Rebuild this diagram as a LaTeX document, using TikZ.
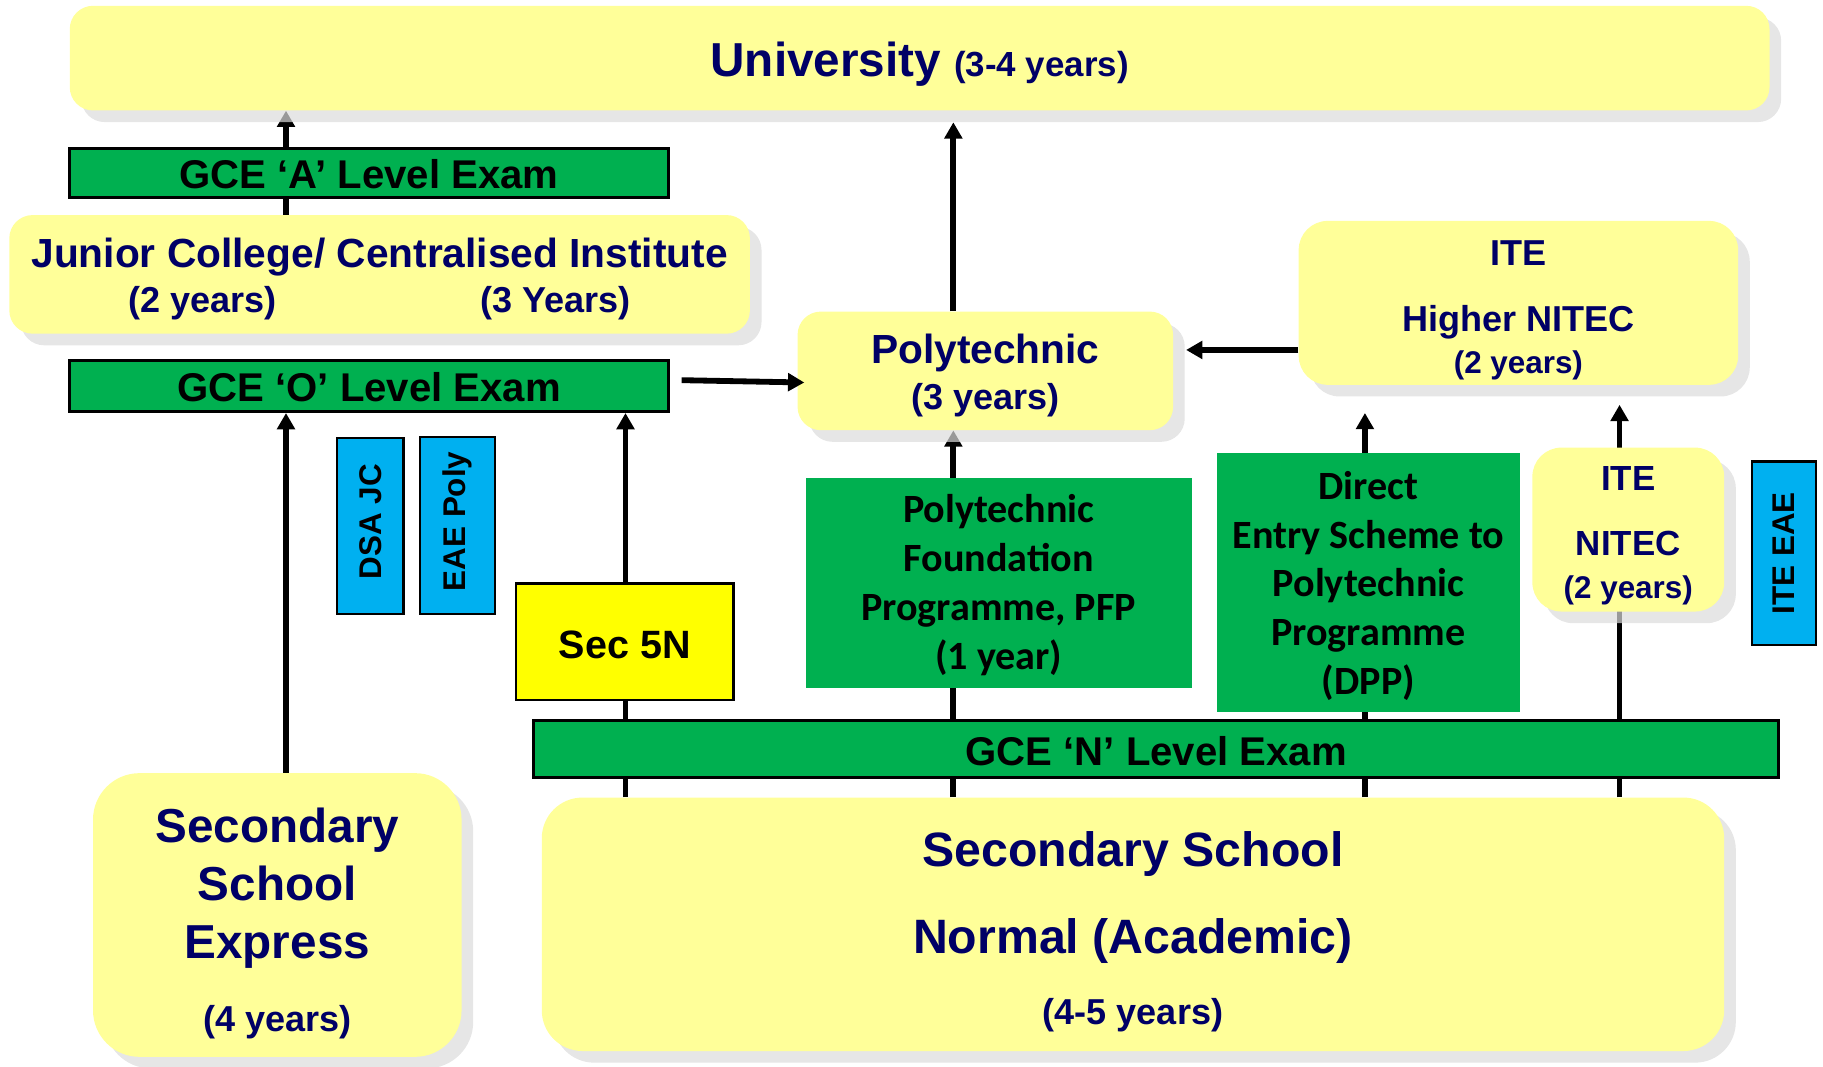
\documentclass[tikz,border=0pt]{standalone}
\usepackage{fontspec}
\setmainfont{Liberation Sans}
\newfontfamily\calib{Carlito}
\usetikzlibrary{arrows.meta,shadows,backgrounds,calc}
\definecolor{navy}{HTML}{000066}
\definecolor{ylw}{HTML}{FFFF99}
\definecolor{grn}{HTML}{00B050}
\definecolor{blu}{HTML}{00B0F0}
\definecolor{secy}{HTML}{FFFF00}
\newcommand\fsz[2]{\fontsize{#1}{#2}\selectfont}
\newcommand\topstrut[1]{\rule{0pt}{#1}}
\begin{document}
\begin{tikzpicture}[x=1pt,y=-1pt,
  shd/.style={drop shadow={shadow xshift=10pt,shadow yshift=-10pt,fill=black!14,opacity=0.7}},
  ybox/.style={shd,fill=ylw,rounded corners=#1,text=navy,align=center,inner sep=0pt},
  ybox/.default=20pt,
  gbar/.style={fill=grn,draw=black,line width=2.5pt,font=\bfseries\fsz{34.5}{40},inner sep=0pt},
  gblock/.style={fill=grn,inner sep=0pt,align=center,font=\calib\bfseries\fsz{34.5}{42}},
  bbox/.style={fill=blu,draw=black,line width=2pt,rotate=90,font=\bfseries\fsz{27}{32},inner sep=0pt},
  arr/.style={line width=5pt,-{Triangle[length=14pt,width=15pt]}}
]
\useasboundingbox (0,0) rectangle (1568,917);

% boxes
\node[ybox=20pt,minimum width=1462pt,minimum height=90pt,font=\bfseries\fsz{41}{49}] (univ) at (791,50)
  {\topstrut{40pt}University \fsz{30}{49}(3-4 years)};
\node[gbar,minimum width=515pt,minimum height=42pt] (alev) at (317.5,149)
  {\topstrut{27pt}GCE ‘A’ Level Exam};
\node[ybox=20pt,minimum width=637pt,minimum height=102pt,font=\bfseries\fsz{35}{39}] (jc) at (326.5,236)
  {\topstrut{33.5pt}Junior College/ Centralised Institute\\\fsz{31}{39}(2 years)\hspace{175pt}(3 Years)};
\node[gbar,minimum width=515pt,minimum height=44pt] (olev) at (317.5,332)
  {\topstrut{27pt}GCE ‘O’ Level Exam};
\node[ybox=20pt,minimum width=323pt,minimum height=102pt,font=\bfseries\fsz{35}{39}] (poly) at (847.5,319)
  {\topstrut{33.5pt}Polytechnic\\\fsz{31}{39}(3 years)};
\node[ybox=25pt,minimum width=378pt,minimum height=141pt,font=\bfseries\fsz{31}{36}] (ite) at (1306,260.5)
  {\topstrut{34pt}ITE\\[21pt]Higher NITEC\\\fsz{27}{36}(2 years)};
\node[gblock,minimum width=332pt,minimum height=181pt] (pfp) at (859,501.5)
  {\topstrut{28pt}Polytechnic\\Foundation\\Programme, PFP\\(1 year)};
\node[gblock,minimum width=260pt,minimum height=222pt] (dpp) at (1177,501)
  {\topstrut{30pt}Direct\\Entry Scheme to\\Polytechnic\\Programme\\(DPP)};
\node[ybox=25pt,minimum width=165pt,minimum height=141pt,font=\bfseries\fsz{30}{37}] (nitec) at (1400.5,455.5)
  {\topstrut{32pt}ITE\\[19pt]NITEC\\\fsz{27}{37}(2 years)};
\node[bbox,minimum width=158pt,minimum height=55pt] (eaei) at (1534.5,476) {ITE EAE};
\node[bbox,minimum width=151pt,minimum height=57pt] (dsa) at (318.5,452.5) {\hspace*{8pt}DSA JC};
\node[bbox,minimum width=152pt,minimum height=65pt] (eaep) at (393.5,452) {\hspace*{7pt}EAE Poly};
\node[fill=secy,draw=black,line width=2pt,minimum width=187pt,minimum height=100pt,
  font=\bfseries\fsz{34}{40},inner sep=0pt] (s5n) at (537.5,552) {\topstrut{28.5pt}Sec 5N};
\node[gbar,minimum width=1071pt,minimum height=49pt] (nlev) at (994.5,644.5)
  {\topstrut{28pt}GCE ‘N’ Level Exam};
\node[ybox=40pt,minimum width=317pt,minimum height=244pt,font=\bfseries\fsz{41}{50}] (ex) at (238.5,787)
  {\topstrut{44pt}Secondary\\School\\Express\\[12pt]\fsz{31}{50}(4 years)};
\node[ybox=35pt,minimum width=1017pt,minimum height=218pt,font=\bfseries\fsz{41.5}{61}] (norm) at (974.5,795)
  {\topstrut{43pt}Secondary School\\[14pt]Normal (Academic)\\\fsz{31}{61}(4-5 years)};

% column positions
\coordinate (xa) at (246,0);
\coordinate (xb) at (538,0);
\coordinate (xc) at (820,0);
\coordinate (xd) at (1174,0);
\coordinate (xe) at (1393,0);

\begin{scope}[on background layer]
\draw[arr] (jc.north -| xa) -- (univ.south -| xa);
\draw[arr] (ex.north -| xa) -- (olev.south -| xa);
\draw[arr] (norm.north -| xb) -- (olev.south -| xb);
\draw[arr] (norm.north -| xc) -- (poly.south -| xc);
\draw[arr] (poly.north -| xc) -- ($(univ.south -| xc)+(0,10)$);
\draw[arr,shorten >=24pt] (norm.north -| xd) -- (ite.south -| xd);
\draw[arr,shorten >=17pt] (norm.north -| xe) -- (ite.south -| xe);
\end{scope}

\draw[arr] ($(olev.east)+(10,-5)$) -- ($(poly.west)+(6,10)$);
\draw[arr] ($(ite.west)+(0,40.5)$) -- ($(poly.east)+(11,-18)$);
\end{tikzpicture}
\end{document}
